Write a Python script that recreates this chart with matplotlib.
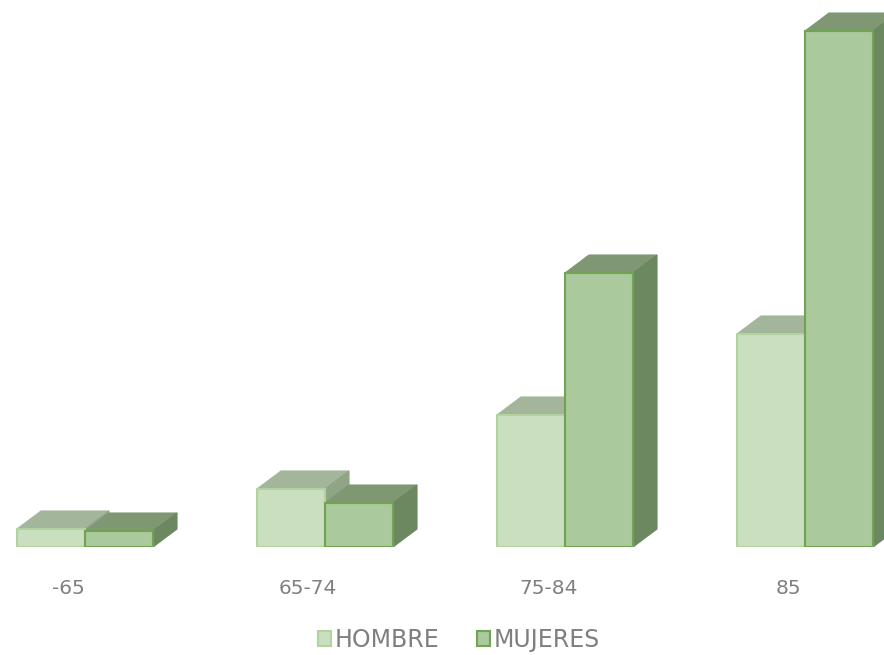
import matplotlib
matplotlib.use('Agg')
import matplotlib.pyplot as plt
from matplotlib.patches import Polygon, Patch
import numpy as np

categories = ['-65', '65-74', '75-84', '85']
series_names = ['HOMBRE', 'MUJERES']
hombre = [1.8, 5.8, 13.2, 21.3]
mujeres = [1.6, 4.4, 27.4, 51.6]

fig = plt.figure(figsize=(8.84, 6.55), dpi=100)
ax = fig.add_axes([0, 108 / 655, 1, 547 / 655])
ax.set_xlim(-85 / 240, 799 / 240)
ax.set_ylim(0, 54.7)
ax.axis('off')

width = 68 / 240
dx, dy = 0.1, 1.8
styles = [
    dict(front='#cadfc0', top='#a3b59a', side='#8fa585', edge='#b2d3a0'),
    dict(front='#aac99c', top='#7f9873', side='#6b8860', edge='#70a452'),
]
x = np.arange(len(categories))
for i in x:
    for s, vals in enumerate([hombre, mujeres]):
        left = i - width + s * width
        h = vals[i]
        st = styles[s]
        top = Polygon([(left, h), (left + dx, h + dy), (left + width + dx, h + dy), (left + width, h)],
                      closed=True, facecolor=st['top'], edgecolor=st['top'], lw=0.8, zorder=2)
        side = Polygon([(left + width, 0), (left + width + dx, dy), (left + width + dx, h + dy), (left + width, h)],
                       closed=True, facecolor=st['side'], edgecolor=st['side'], lw=0.8, zorder=2)
        ax.add_patch(top)
        ax.add_patch(side)
        ax.bar(left, h, width, align='edge', color=st['front'], edgecolor=st['edge'], lw=1.5, zorder=3)
        # draw later series above earlier
    
for i, c in enumerate(categories):
    ax.text(i - 0.07, -4.1, c, ha='center', va='center', fontsize=14.5, color='#808080', clip_on=False)

handles = [Patch(facecolor=styles[k]['front'], edgecolor=styles[k]['edge'], lw=1.5) for k in range(2)]
fig.legend(handles, series_names, loc='center', bbox_to_anchor=(0.519, 0.023), ncol=2, frameon=False,
           fontsize=17, labelcolor='#7f7f7f', handlelength=0.55, handleheight=0.55,
           handletextpad=0.15, columnspacing=1.6)

fig.savefig('out.png', dpi=100)
